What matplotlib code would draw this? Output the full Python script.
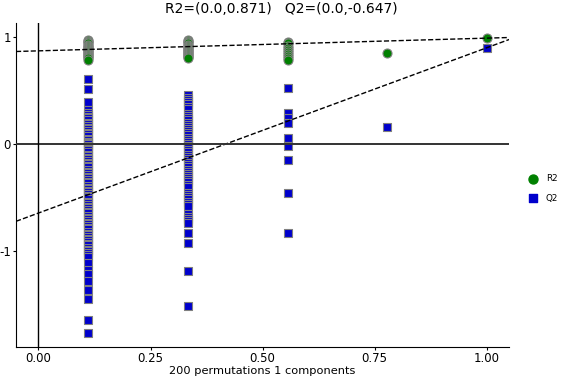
import numpy as np
import matplotlib
matplotlib.use("Agg")
import matplotlib.pyplot as plt

plt.rcParams["axes.unicode_minus"] = False

# correlation of permuted y with original y (x positions of each column)
corr_levels = [1/9, 3/9, 5/9, 7/9, 1.0]

# R2 of the permuted models, one list per column
r2_cols = [
    [0.97, 0.96, 0.95, 0.94, 0.93, 0.92, 0.91, 0.9, 0.89, 0.88, 0.87, 0.86,
     0.85, 0.84, 0.83, 0.82, 0.81, 0.8, 0.79],
    [0.97, 0.96, 0.95, 0.94, 0.93, 0.92, 0.91, 0.9, 0.89, 0.88, 0.87, 0.86,
     0.85, 0.84, 0.83, 0.82, 0.81, 0.8],
    [0.95, 0.94, 0.92, 0.9, 0.88, 0.86, 0.84, 0.82, 0.8, 0.79],
    [0.85],
    [0.99],
]

# Q2 of the permuted models, one list per column
q2_cols = [
    [0.61, 0.51, 0.39, 0.32, 0.29, 0.27, 0.25, 0.24, 0.22, 0.2, 0.19, 0.17,
     0.15, 0.14, 0.12, 0.1, 0.09, 0.07, 0.05, 0.04, 0.02, 0.01, 0.0, -0.02,
     -0.03, -0.05, -0.06, -0.08, -0.1, -0.11, -0.13, -0.14, -0.16, -0.18,
     -0.19, -0.21, -0.22, -0.24, -0.26, -0.27, -0.29, -0.31, -0.32, -0.34,
     -0.36, -0.37, -0.39, -0.41, -0.42, -0.44, -0.45, -0.47, -0.49, -0.5,
     -0.52, -0.54, -0.55, -0.57, -0.59, -0.6, -0.62, -0.64, -0.65, -0.67,
     -0.69, -0.7, -0.72, -0.74, -0.75, -0.77, -0.79, -0.8, -0.82, -0.84,
     -0.85, -0.87, -0.89, -0.9, -0.92, -0.94, -0.95, -0.97, -0.99, -1.0,
     -1.02, -1.04, -1.06, -1.11, -1.18, -1.22, -1.28, -1.37, -1.45, -1.65,
     -1.77],
    [0.46, 0.43, 0.41, 0.39, 0.37, 0.35, 0.33, 0.28, 0.26, 0.24, 0.22, 0.2,
     0.18, 0.16, 0.14, 0.12, 0.1, 0.08, 0.06, 0.04, 0.02, 0.0, -0.02, -0.04,
     -0.06, -0.08, -0.1, -0.12, -0.14, -0.16, -0.18, -0.2, -0.22, -0.24,
     -0.26, -0.28, -0.3, -0.32, -0.34, -0.36, -0.38, -0.4, -0.46, -0.48,
     -0.5, -0.52, -0.54, -0.56, -0.58, -0.66, -0.68, -0.7, -0.72, -0.74,
     -0.83, -0.93, -1.19, -1.52],
    [0.52, 0.29, 0.24, 0.2, 0.06, -0.02, -0.15, -0.46, -0.83],
    [0.16],
    [0.9],
]

r2_intercept = 0.871
q2_intercept = -0.647
n_perm = 200
n_comp = 1

fig = plt.figure(figsize=(5.62, 3.8), dpi=100)
ax = fig.add_axes([0.0285, 0.087, 0.8775, 0.852])

for x, r2, q2 in zip(corr_levels, r2_cols, q2_cols):
    ax.scatter(np.full(len(r2), x), r2, marker="o", s=42, c="green",
               edgecolors="gray", linewidths=0.8, zorder=2)
    ax.scatter(np.full(len(q2), x), q2, marker="s", s=36, c="#0000cc",
               edgecolors="gray", linewidths=0.8, zorder=2)

# regression lines through intercept and the original model
ax.axline((0, r2_intercept), (1, r2_cols[-1][0]), color="black",
          ls="--", lw=1, zorder=3)
ax.axline((0, q2_intercept), (1, q2_cols[-1][0]), color="black",
          ls="--", lw=1, zorder=3)

ax.axhline(0, color="#333333", lw=1.4, zorder=3)
ax.axvline(0, color="black", lw=1, zorder=3)

# legend handles
ax.scatter([], [], marker="o", s=42, c="green", label="R2")
ax.scatter([], [], marker="s", s=36, c="#0000cc", label="Q2")
ax.legend(loc="center left", bbox_to_anchor=(1.023, 0.49), frameon=False,
          fontsize=6.3, handlelength=1.6, handletextpad=0.7,
          labelspacing=1.25, borderaxespad=0.2)

ax.set_xlim(-0.05, 1.05)
ax.set_ylim(-1.9, 1.13)
ax.set_xticks([0, 0.25, 0.5, 0.75, 1.0])
ax.set_xticklabels(["0.00", "0.25", "0.50", "0.75", "1.00"])
ax.set_yticks([-1, 0, 1])
ax.tick_params(labelsize=8.5, length=2.5, pad=1.2)
ax.spines["top"].set_visible(False)
ax.spines["right"].set_visible(False)
ax.set_xlabel(f"{n_perm} permutations {n_comp} components", fontsize=8.2,
              labelpad=1)

fig.suptitle(f"R2=(0.0,{r2_intercept})   Q2=(0.0,{q2_intercept})",
             fontsize=10, y=0.995, va="top")

fig.savefig("out.png", dpi=100)
